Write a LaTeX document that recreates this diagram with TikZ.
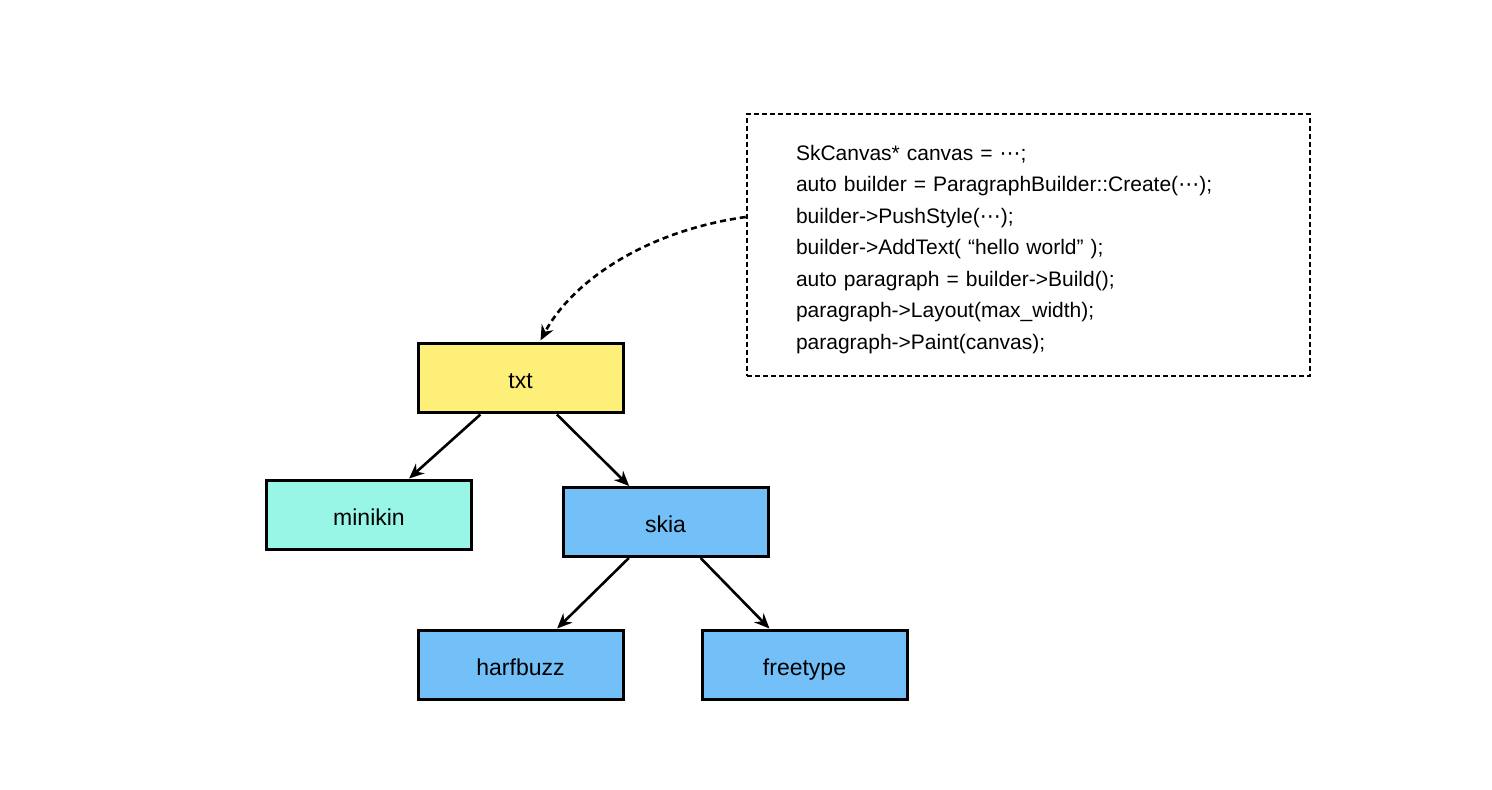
\documentclass[tikz,border=0pt]{standalone}
\usepackage{fontspec}
\setmainfont{Liberation Sans}
\newfontfamily\symfont{DejaVu Sans}
\usetikzlibrary{arrows.meta,calc}
\definecolor{boxyellow}{HTML}{FEEF78}
\definecolor{boxaqua}{HTML}{98F6E7}
\definecolor{boxblue}{HTML}{73C0F9}
\newcommand{\dotsmid}{{\symfont\char"22EF}}
\begin{document}
\begin{tikzpicture}[x=0.5pt,y=-0.5pt,
  libbox/.style={draw=black,line width=1.5pt,minimum width=102.5pt,minimum height=34.5pt,inner sep=0pt,text height=10.5pt,text depth=0pt,font=\fontsize{11.5pt}{14pt}\selectfont},
  deparrow/.style={line width=1.3pt,-{Stealth[length=7.5pt,width=6.5pt]}},
  codebox/.style={draw=black,line width=1.3pt,dash pattern=on 2.5pt off 1.5pt,minimum width=281.5pt,minimum height=131pt,inner sep=0pt,text width=232.5pt,align=left,font=\fontsize{10.5pt}{15.75pt}\selectfont},
  usearrow/.style={line width=1.3pt,dash pattern=on 3pt off 2pt,-{Stealth[length=7.5pt,width=6.5pt]}}
]
\useasboundingbox (0,0) rectangle (1492,790);
\node[libbox,fill=boxyellow] (txt) at (520.5,378.5) {txt};
\node[libbox,fill=boxaqua] (minikin) at (369,514.5) {minikin};
\node[libbox,fill=boxblue] (skia) at (665.5,522) {skia};
\node[libbox,fill=boxblue] (harfbuzz) at (520.5,664.5) {harfbuzz};
\node[libbox,fill=boxblue] (freetype) at (804.5,664.5) {freetype};
\node[codebox] (code) at (1028.5,245) {\rule{0pt}{11.7pt}SkCanvas* canvas = \dotsmid;\\
auto builder = ParagraphBuilder::Create(\dotsmid);\\
builder->PushStyle(\dotsmid);\\
builder->AddText(\hspace{3.5pt}“hello world”\hspace{3.5pt});\\
auto paragraph = builder->Build();\\
paragraph->Layout(max\_width);\\
paragraph->Paint(canvas);};
\draw[deparrow] (txt) -- (minikin);
\draw[deparrow] (txt) -- (skia);
\draw[deparrow] (skia) -- (harfbuzz);
\draw[deparrow] (skia) -- (freetype);
\draw[usearrow] ($(code.west)+(0,-28)$) .. controls (640,232) and (570,285) .. ($(txt.north)+(20,-2)$);
\end{tikzpicture}
\end{document}
